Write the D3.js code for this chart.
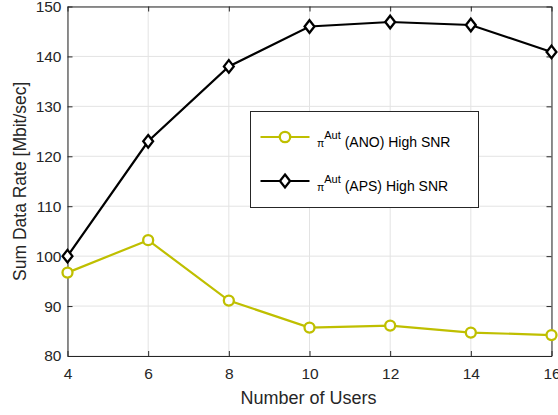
<!DOCTYPE html>
<html><head><meta charset="utf-8">
<script src="https://cdn.jsdelivr.net/npm/d3@7"></script>
<style>body{margin:0;background:#fff;}svg{display:block;font-family:"Liberation Sans",Arial,sans-serif;}</style>
</head><body><div id="c"></div>
<script>
const users = [4, 6, 8, 10, 12, 14, 16];
const anoValues = [96.7, 103.2, 91.1, 85.7, 86.1, 84.7, 84.2];
const apsValues = [100, 123, 138, 146, 146.9, 146.3, 140.9];
const xTicks = [4, 6, 8, 10, 12, 14, 16];
const yTicks = [80, 90, 100, 110, 120, 130, 140, 150];
const seriesNames = ["(ANO) High SNR", "(APS) High SNR"];

const W = 558, H = 415;
const m = {l: 67.5, r: 6.5, t: 6.5, b: 59};
const svg = d3.select("#c").append("svg").attr("width", W).attr("height", H);
const x = d3.scaleLinear().domain([4, 16]).range([m.l, W - m.r]);
const y = d3.scaleLinear().domain([80, 150]).range([H - m.b, m.t]);
const axisCol = "#262626";
const FF = "Liberation Sans, Arial, sans-serif";

// grid
svg.append("g").selectAll("line").data(xTicks).join("line")
  .attr("x1", d => x(d)).attr("x2", d => x(d)).attr("y1", y(80)).attr("y2", y(150))
  .attr("stroke", "#e3e3e3").attr("stroke-width", 1);
svg.append("g").selectAll("line").data(yTicks).join("line")
  .attr("y1", d => y(d)).attr("y2", d => y(d)).attr("x1", x(4)).attr("x2", x(16))
  .attr("stroke", "#e3e3e3").attr("stroke-width", 1);

// axes
const xAxis = d3.axisBottom(x).tickValues(xTicks).tickSize(-5).tickPadding(12).tickSizeOuter(0);
const yAxis = d3.axisLeft(y).tickValues(yTicks).tickSize(-5).tickPadding(6).tickSizeOuter(0);
const gx = svg.append("g").attr("transform", `translate(0,${y(80)})`).call(xAxis);
const gy = svg.append("g").attr("transform", `translate(${x(4)},0)`).call(yAxis);
const gx2 = svg.append("g").attr("transform", `translate(0,${y(150)})`).call(d3.axisTop(x).tickValues(xTicks).tickSize(-5).tickFormat("").tickSizeOuter(0));
const gy2 = svg.append("g").attr("transform", `translate(${x(16)},0)`).call(d3.axisRight(y).tickValues(yTicks).tickSize(-5).tickFormat("").tickSizeOuter(0));
[gx, gy, gx2, gy2].forEach(g => {
  g.attr("font-size", null).attr("font-family", null);
  g.selectAll("path").attr("stroke", axisCol);
  g.selectAll("line").attr("stroke", axisCol);
  g.selectAll("text").attr("fill", axisCol).style("font-size", "15.5px").style("font-family", FF);
});

// labels
svg.append("text").attr("x", (x(4) + x(16)) / 2 - 1).attr("y", 404).attr("text-anchor", "middle")
  .attr("fill", axisCol).style("font-size", "18px").style("font-family", FF).text("Number of Users");
svg.append("text").attr("transform", `translate(25.5,${(y(80) + y(150)) / 2}) rotate(-90)`).attr("text-anchor", "middle")
  .attr("fill", axisCol).style("font-size", "17.5px").style("font-family", FF).text("Sum Data Rate [Mbit/sec]");

const yellow = "#bfbf00";
const line = d3.line().x((d, i) => x(users[i])).y(d => y(d));
const diamond = (cx, cy, s) => `M${cx},${cy - s}L${cx + s * 0.78},${cy}L${cx},${cy + s}L${cx - s * 0.78},${cy}Z`;

// ANO
svg.append("path").datum(anoValues).attr("d", line).attr("fill", "none").attr("stroke", yellow).attr("stroke-width", 2.2);
svg.append("g").selectAll("circle").data(anoValues).join("circle")
  .attr("cx", (d, i) => x(users[i])).attr("cy", d => y(d)).attr("r", 5)
  .attr("fill", "#fff").attr("stroke", yellow).attr("stroke-width", 2.3);

// APS
svg.append("path").datum(apsValues).attr("d", line).attr("fill", "none").attr("stroke", "#000").attr("stroke-width", 2.2);
svg.append("g").selectAll("path").data(apsValues).join("path")
  .attr("d", (d, i) => diamond(x(users[i]), y(d), 6.3))
  .attr("fill", "#fff").attr("stroke", "#000").attr("stroke-width", 2.3);

// legend
const lg = svg.append("g");
lg.append("rect").attr("x", 250.5).attr("y", 111.5).attr("width", 228).attr("height", 96)
  .attr("fill", "#fff").attr("stroke", "#262626").attr("stroke-width", 1);
const rows = [{y: 137, col: yellow, type: "circle", name: seriesNames[0]}, {y: 181, col: "#000", type: "diamond", name: seriesNames[1]}];
rows.forEach(r => {
  lg.append("line").attr("x1", 260.5).attr("x2", 309.5).attr("y1", r.y).attr("y2", r.y).attr("stroke", r.col).attr("stroke-width", 2.2);
  if (r.type === "circle") {
    lg.append("circle").attr("cx", 285).attr("cy", r.y).attr("r", 5.2).attr("fill", "#fff").attr("stroke", r.col).attr("stroke-width", 2.3);
  } else {
    lg.append("path").attr("d", diamond(285, r.y, 6.5)).attr("fill", "#fff").attr("stroke", r.col).attr("stroke-width", 2.3);
  }
  const t = lg.append("text").attr("x", 317).attr("y", r.y + 9.5).attr("fill", "#000").style("font-size", "14px").style("font-family", FF);
  t.append("tspan").style("font-size", "10.5px").text("π");
  t.append("tspan").attr("dy", -8).style("font-size", "11px").text("Aut");
  t.append("tspan").attr("dy", 8).text(" " + r.name);
});
</script></body></html>
